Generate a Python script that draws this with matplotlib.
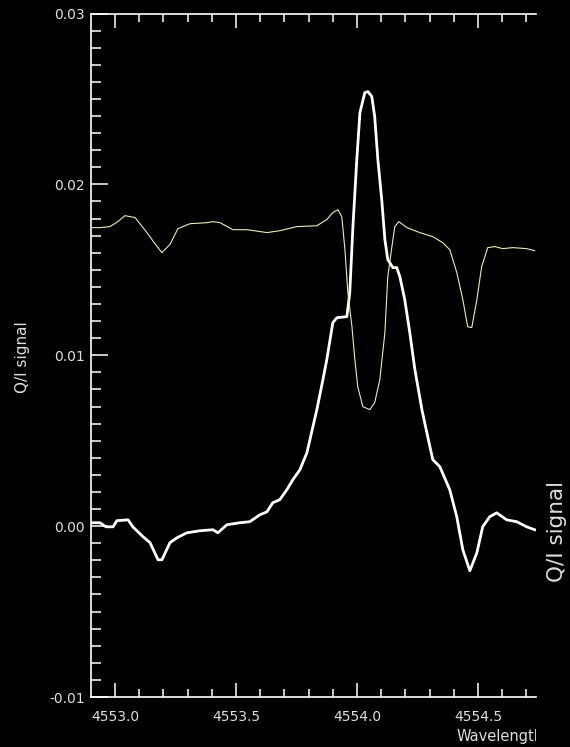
#!/usr/bin/env python
"""
Q/I signal versus wavelength: two profiles on a black IDL-style frame.
"""

import numpy as np
import matplotlib
matplotlib.use("Agg")
import matplotlib.pyplot as plt
from matplotlib.ticker import MultipleLocator, FormatStrFormatter
from matplotlib.transforms import Bbox, TransformedBbox


# thick white profile
WHITE_WL = [
    4552.905, 4552.938, 4552.963, 4552.992, 4553.008, 4553.054, 4553.074,
    4553.116, 4553.145, 4553.178, 4553.194, 4553.227, 4553.256, 4553.297,
    4553.351, 4553.405, 4553.425, 4553.462, 4553.516, 4553.557, 4553.599,
    4553.628, 4553.652, 4553.681, 4553.710, 4553.735, 4553.764, 4553.793,
    4553.834, 4553.859, 4553.875, 4553.900, 4553.917, 4553.958, 4553.970,
    4553.983, 4553.999, 4554.012, 4554.032, 4554.045, 4554.061, 4554.073,
    4554.086, 4554.102, 4554.115, 4554.127, 4554.148, 4554.164, 4554.177,
    4554.197, 4554.218, 4554.239, 4554.268, 4554.292, 4554.313, 4554.342,
    4554.383, 4554.412, 4554.437, 4554.466, 4554.495, 4554.519, 4554.548,
    4554.577, 4554.618, 4554.660, 4554.701, 4554.734,
]
WHITE_QI = [
    0.00020, 0.00020, -0.00004, -0.00004, 0.00032, 0.00037, -0.00004,
    -0.00062, -0.00097, -0.00197, -0.00197, -0.00097, -0.00068, -0.00039,
    -0.00027, -0.00021, -0.00039, 0.00008, 0.00020, 0.00026, 0.00067,
    0.00084, 0.00137, 0.00155, 0.00213, 0.00272, 0.00330, 0.00430,
    0.00682, 0.00857, 0.00974, 0.01191, 0.01220, 0.01226, 0.01367,
    0.01753, 0.02145, 0.02420, 0.02537, 0.02543, 0.02514, 0.02397,
    0.02145, 0.01911, 0.01677, 0.01560, 0.01513, 0.01513, 0.01460,
    0.01326, 0.01132, 0.00916, 0.00682, 0.00523, 0.00389, 0.00348,
    0.00213, 0.00055, -0.00138, -0.00261, -0.00156, -0.00004, 0.00055,
    0.00078, 0.00037, 0.00026, -0.00004, -0.00021,
]

# thin yellow profile
YELLOW_WL = [
    4552.905, 4552.938, 4552.979, 4553.012, 4553.041, 4553.083, 4553.132,
    4553.165, 4553.194, 4553.227, 4553.260, 4553.310, 4553.380, 4553.405,
    4553.434, 4553.487, 4553.545, 4553.628, 4553.681, 4553.751, 4553.834,
    4553.875, 4553.900, 4553.921, 4553.937, 4553.950, 4553.962, 4553.979,
    4553.991, 4554.003, 4554.024, 4554.053, 4554.073, 4554.094, 4554.115,
    4554.127, 4554.144, 4554.156, 4554.173, 4554.206, 4554.259, 4554.313,
    4554.354, 4554.383, 4554.412, 4554.437, 4554.457, 4554.474, 4554.495,
    4554.515, 4554.540, 4554.569, 4554.602, 4554.643, 4554.701, 4554.734,
]
YELLOW_QI = [
    0.01747, 0.01747, 0.01753, 0.01782, 0.01817, 0.01806, 0.01718,
    0.01653, 0.01601, 0.01648, 0.01741, 0.01770, 0.01776, 0.01782,
    0.01776, 0.01735, 0.01735, 0.01718, 0.01729, 0.01753, 0.01758,
    0.01794, 0.01835, 0.01852, 0.01811, 0.01618, 0.01367, 0.01167,
    0.00974, 0.00816, 0.00699, 0.00682, 0.00723, 0.00857, 0.01132,
    0.01460, 0.01636, 0.01753, 0.01782, 0.01747, 0.01718, 0.01694,
    0.01659, 0.01618, 0.01484, 0.01326, 0.01167, 0.01162, 0.01326,
    0.01520, 0.01630, 0.01636, 0.01624, 0.01630, 0.01624, 0.01612,
]

X_MAJOR = [4553.0, 4553.5, 4554.0, 4554.5]
Y_MAJOR = [-0.01, 0.00, 0.01, 0.02, 0.03]

FG = "white"
LABEL_GREY = "#dedede"
YELLOW = "#ecebb4"


def main():
    fig = plt.figure(figsize=(5.7, 7.47), dpi=100, facecolor="black")
    ax = fig.add_axes([0.1605, 0.0669, 0.7793, 0.915], facecolor="black")

    ax.plot(WHITE_WL, WHITE_QI, color=FG, linewidth=2.0, zorder=2)
    ax.plot(YELLOW_WL, YELLOW_QI, color=YELLOW, linewidth=0.8, zorder=3)

    ax.set_xlim(4552.903, 4554.738)
    ax.set_ylim(-0.01, 0.03)

    for side in ("left", "top", "bottom"):
        ax.spines[side].set_color(FG)
        ax.spines[side].set_linewidth(1.2)
    ax.spines["right"].set_visible(False)

    ax.set_xticks(X_MAJOR)
    ax.xaxis.set_major_formatter(FormatStrFormatter("%.1f"))
    ax.xaxis.set_minor_locator(MultipleLocator(0.1))
    ax.set_yticks(Y_MAJOR)
    ax.yaxis.set_major_formatter(FormatStrFormatter("%.2f"))
    ax.yaxis.set_minor_locator(MultipleLocator(0.001))

    ax.tick_params(axis="x", which="both", direction="in", top=True,
                   bottom=True, color=FG, width=1.1, labelcolor=LABEL_GREY,
                   labelsize=10)
    ax.tick_params(axis="x", which="major", length=10, pad=9)
    ax.tick_params(axis="x", which="minor", length=5.5)
    ax.tick_params(axis="y", which="both", direction="in", left=True,
                   right=False, color=FG, width=1.1, labelcolor=LABEL_GREY,
                   labelsize=10)
    ax.tick_params(axis="y", which="major", length=12, pad=4.5)
    ax.tick_params(axis="y", which="minor", length=7)

    # left axis title
    fig.text(22 / 570, 1 - 357 / 747, "Q/I signal", rotation=90,
             color=LABEL_GREY, fontsize=11, ha="center", va="center")
    # right axis title (no axis drawn)
    fig.text(557 / 570, 1 - 532 / 747, "Q/I signal", rotation=90,
             color=LABEL_GREY, fontsize=15.5, ha="center", va="center")

    # x title, cut off at the right edge of the plot
    xt = fig.text(457 / 570, 1 - 736 / 747, "Wavelength", color=LABEL_GREY,
                  fontsize=10.5, ha="left", va="center")
    clip = TransformedBbox(Bbox([[0.0, 0.0], [0.9398, 1.0]]), fig.transFigure)
    xt.set_clip_box(clip)
    xt.set_clip_on(True)

    fig.savefig("out.png", dpi=100, facecolor="black")


if __name__ == "__main__":
    main()
